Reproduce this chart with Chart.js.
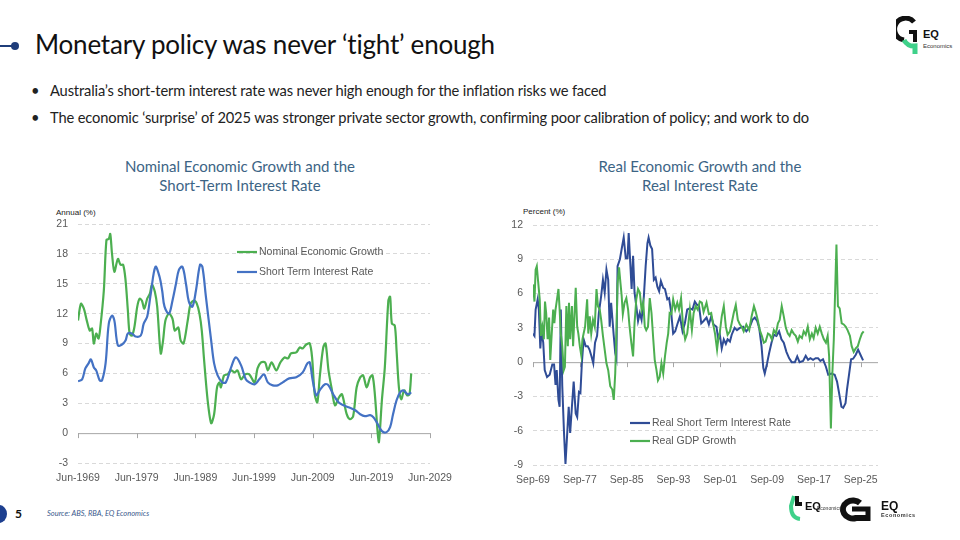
<!DOCTYPE html>
<html>
<head>
<meta charset="utf-8">
<script src="https://cdn.jsdelivr.net/npm/chart.js@4.4.1/dist/chart.umd.min.js"></script>
<style>
  body { margin: 0; width: 960px; height: 540px; background: #fff; position: relative; overflow: hidden; font-family: Lato, "Open Sans", sans-serif; }
  .abs { position: absolute; }
  .dline { left: 0; top: 45px; width: 14px; height: 2px; background: #1f3d7a; }
  .ddot { left: 11px; top: 42px; width: 8px; height: 8px; border-radius: 50%; background: #1f3d7a; }
  .title { left: 35px; top: 28px; font-size: 26px; color: #111; white-space: nowrap; letter-spacing: -0.2px; }
  .bullet { left: 31px; font-size: 14.7px; color: #222; white-space: nowrap; letter-spacing: -0.15px; }
  .bullet span { display: inline-block; width: 19px; }
  .ctitle { width: 320px; text-align: center; font-size: 15px; line-height: 19px; color: #3c6485; }
  .ylab { font-family: "Liberation Sans", Arial, sans-serif; font-size: 8px; color: #222; }
  .pg { left: 15px; top: 506px; font-size: 12px; font-weight: bold; color: #111; }
  .pgdot { left: -9px; top: 505px; width: 16px; height: 18px; border-radius: 50%; background: #1d3f8f; }
  .src { left: 47px; top: 509px; font-size: 7.5px; font-style: italic; color: #3a5a8c; }
  canvas { position: absolute; }
</style>
</head>
<body>
<div class="abs dline"></div>
<div class="abs ddot"></div>
<div class="abs title">Monetary policy was never ‘tight’ enough</div>
<div class="abs bullet" style="top:81px"><span>•</span>Australia’s short-term interest rate was never high enough for the inflation risks we faced</div>
<div class="abs bullet" style="top:108px"><span>•</span>The economic ‘surprise’ of 2025 was stronger private sector growth, confirming poor calibration of policy; and work to do</div>

<div class="abs ctitle" style="left:80px; top:157px">Nominal Economic Growth and the<br>Short-Term Interest Rate</div>
<div class="abs ctitle" style="left:540px; top:157px">Real Economic Growth and the<br>Real Interest Rate</div>
<div class="abs ylab" style="left:56px; top:208px">Annual (%)</div>
<div class="abs ylab" style="left:523px; top:207px">Percent (%)</div>

<canvas id="nominalChart" width="420" height="295" style="left:40px; top:205px"></canvas>
<canvas id="realChart" width="393" height="295" style="left:495px; top:205px"></canvas>

<div class="abs pgdot"></div>
<div class="abs pg">5</div>
<div class="abs src">Source: ABS, RBA, EQ Economics</div>

<svg class="abs" style="left:896px; top:16px" width="60" height="44" viewBox="0 0 60 44">
  <path d="M18 6 A11 11 0 1 0 8 24" fill="none" stroke="#111" stroke-width="5"/>
  <path d="M8 24 A11 11 0 0 0 19 30 L19 38" fill="none" stroke="#3fd18a" stroke-width="5"/>
  <path d="M13 16 L19 16 L19 26" fill="none" stroke="#111" stroke-width="4"/>
  <text x="27" y="22" font-family="Liberation Sans, Arial" font-weight="bold" font-size="11" fill="#111">EQ</text>
  <text x="27" y="32" font-family="Liberation Sans Narrow, Arial" font-size="6" fill="#333">Economics</text>
</svg>
<svg class="abs" style="left:788px; top:492px" width="150" height="34" viewBox="0 0 150 34">
  <path d="M6 4 L3 14 Q3 26 12 27" fill="none" stroke="#3fd18a" stroke-width="4"/>
  <path d="M9 4 L9 12 L14 12" fill="none" stroke="#111" stroke-width="4"/>
  <text x="17" y="18" font-family="Liberation Sans Narrow, Arial" font-weight="bold" font-size="11" fill="#111">EQ</text>
  <text x="29" y="18" font-family="Liberation Sans Narrow, Arial" font-size="5" fill="#333">Economics</text>
  <path d="M72 11 A10 9 0 1 0 68 26 L80 26" fill="none" stroke="#111" stroke-width="6"/>
  <path d="M64 17 L80 17 L80 29" fill="none" stroke="#111" stroke-width="5"/>
  <text x="93" y="18" font-family="Liberation Sans, Arial" font-weight="bold" font-size="12" fill="#111">EQ</text>
  <text x="93" y="25" font-family="Liberation Sans, Arial" font-weight="bold" font-size="5.5" fill="#333" letter-spacing="0.6">Economics</text>
</svg>

<script>
// Left chart: nominal GDP growth and short-term (90-day) rate, annual %
const nominalYears = [1969.5, 1970.0, 1970.5, 1971.0, 1971.5, 1971.9, 1972.2, 1972.6, 1973.0, 1973.3,
  1973.9, 1974.35, 1974.75, 1975.0, 1975.3, 1975.7, 1976.3, 1976.75, 1977.2, 1977.6,
  1978.0, 1978.3, 1978.7, 1979.1, 1979.6, 1980.0, 1980.4, 1980.8, 1981.3, 1981.75,
  1982.1, 1982.6, 1983.0, 1983.6, 1984.0, 1984.4, 1985.0, 1985.6, 1986.0, 1986.6,
  1987.0, 1987.5, 1988.2, 1988.7, 1989.3, 1989.75, 1990.2, 1990.6, 1991.0, 1991.6,
  1992.2, 1992.7, 1993.2, 1993.6, 1993.85, 1994.4, 1995.0, 1995.6, 1996.2, 1996.7,
  1997.3, 1998.0, 1998.7, 1999.6, 2000.1, 2000.7, 2001.4, 2001.85, 2002.5, 2003.3,
  2004.0, 2004.7, 2005.3, 2005.8, 2006.7, 2007.3, 2007.8, 2008.4, 2009.0, 2009.4,
  2009.85, 2010.3, 2010.7, 2011.3, 2011.7, 2012.2, 2012.7, 2013.3, 2014.0, 2014.5,
  2015.3, 2015.85, 2016.4, 2017.0, 2017.6, 2018.1, 2018.7, 2019.3, 2019.7, 2020.1,
  2020.6, 2020.8, 2021.3, 2021.8, 2022.4, 2022.7, 2023.0, 2023.5, 2023.8, 2024.2,
  2024.6, 2025.1, 2025.6, 2026.0, 2026.3];
const nominalGrowth = [11.3, 13.0, 12.5, 11.3, 10.3, 10.5, 9.0, 10.0, 9.5, 10.6,
  14.3, 19.4, 19.5, 20.0, 18.0, 16.2, 17.5, 16.9, 16.9, 15.4,
  12.3, 10.0, 9.8, 10.6, 12.7, 13.5, 13.3, 12.5, 13.5, 14.0,
  14.9, 14.2, 12.7, 8.0, 9.3, 11.3, 12.0, 11.5, 10.3, 10.6,
  9.3, 9.0, 11.3, 13.0, 13.3, 13.0, 12.0, 10.3, 7.3, 3.3,
  1.0, 1.9, 4.6, 5.1, 4.6, 5.8, 5.9, 6.3, 6.1, 6.3,
  5.4, 5.9, 5.9, 5.1, 6.5, 7.1, 7.1, 6.3, 7.1, 6.3,
  7.1, 7.6, 7.5, 8.0, 8.1, 8.6, 8.5, 8.9, 9.0, 7.6,
  3.9, 3.1, 5.6, 8.6, 9.0, 6.3, 4.6, 2.8, 3.6, 3.9,
  1.9, 1.4, 1.7, 4.6, 5.6, 5.8, 4.6, 5.6, 5.8, 3.9,
  -0.1, -0.9, 3.3, 6.6, 13.3, 13.7, 11.0, 10.8, 8.3, 4.6,
  3.4, 4.3, 3.8, 3.9, 6.0];

const shortRateYears = [1969.5, 1970.2, 1970.75, 1971.3, 1971.7, 1972.2, 1972.6, 1973.2, 1973.6, 1974.2,
  1974.75, 1975.3, 1975.7, 1976.3, 1977.0, 1977.6, 1978.0, 1978.7, 1979.3, 1980.2,
  1980.7, 1981.3, 1981.9, 1982.7, 1983.4, 1983.85, 1984.25, 1985.0, 1985.6, 1986.2,
  1986.7, 1987.3, 1987.9, 1988.4, 1989.0, 1989.6, 1990.3, 1990.7, 1991.3, 1992.2,
  1992.7, 1993.3, 1994.1, 1994.7, 1995.6, 1996.4, 1997.3, 1998.1, 1998.7, 1999.6,
  2000.4, 2001.2, 2001.85, 2002.7, 2003.55, 2004.4, 2005.5, 2006.7, 2007.8, 2008.6,
  2009.0, 2009.5, 2010.1, 2010.7, 2011.6, 2012.2, 2013.0, 2013.9, 2014.75, 2015.6,
  2016.75, 2017.6, 2018.4, 2019.3, 2019.85, 2020.4, 2021.3, 2022.1, 2022.7, 2023.2,
  2023.8, 2024.4, 2024.9, 2025.5, 2025.8, 2026.3];
const shortRate = [5.2, 5.4, 6.5, 7.0, 7.4, 6.6, 6.3, 5.3, 5.3, 7.0,
  11.0, 11.8, 11.3, 8.8, 8.9, 9.3, 10.0, 10.0, 9.7, 9.8,
  11.0, 11.7, 14.0, 16.7, 15.7, 14.3, 12.7, 12.0, 13.3, 15.0,
  16.4, 16.7, 15.0, 13.2, 12.7, 14.3, 16.9, 16.7, 13.7, 9.3,
  7.0, 5.8, 5.1, 5.1, 6.6, 7.6, 6.8, 5.4, 5.1, 4.9,
  5.4, 5.9, 5.1, 4.8, 4.8, 5.1, 5.5, 5.6, 6.1, 7.0,
  7.1, 5.3, 3.8, 4.3, 4.9, 4.8, 3.9, 3.1, 2.8, 2.6,
  2.3, 1.9, 1.7, 1.8, 1.6, 1.1, 0.2, 0.1, 0.6, 1.9,
  3.3, 4.1, 4.3, 4.0, 3.9, 4.1];

const nominalTickYears = [1969.5, 1979.5, 1989.5, 1999.5, 2009.5, 2019.5, 2029.5];
const nominalTickLabels = ['Jun-1969', 'Jun-1979', 'Jun-1989', 'Jun-1999', 'Jun-2009', 'Jun-2019', 'Jun-2029'];

// Right chart: real cash rate and real GDP growth, percent
const realRateYears = [1969.75, 1970.0, 1970.2, 1970.55, 1970.75, 1971.0, 1971.2, 1971.5, 1971.75, 1972.15,
  1972.6, 1973.05, 1973.35, 1973.6, 1973.8, 1974.1, 1974.3, 1974.5, 1974.75, 1975.05,
  1975.3, 1975.6, 1975.85, 1976.1, 1976.4, 1976.7, 1977.05, 1977.3, 1977.6, 1977.85,
  1978.1, 1978.4, 1978.75, 1979.1, 1979.4, 1979.75, 1980.05, 1980.35, 1980.7, 1981.0,
  1981.4, 1981.7, 1982.0, 1982.3, 1982.6, 1982.85, 1983.1, 1983.3, 1983.55, 1983.8,
  1984.0, 1984.2, 1984.6, 1984.9, 1985.25, 1985.6, 1985.9, 1986.1, 1986.4, 1986.6,
  1986.85, 1987.1, 1987.4, 1987.7, 1988.0, 1988.3, 1988.7, 1989.0, 1989.3, 1989.5,
  1989.8, 1990.1, 1990.4, 1990.7, 1991.0, 1991.3, 1991.6, 1992.0, 1992.3, 1992.7,
  1993.0, 1993.35, 1993.7, 1994.05, 1994.4, 1994.85, 1995.3, 1995.7, 1996.1, 1996.55,
  1997.0, 1997.4, 1997.8, 1998.1, 1998.5, 1998.9, 1999.4, 1999.8, 2000.2, 2000.6,
  2001.1, 2001.4, 2001.65, 2002.0, 2002.35, 2002.7, 2003.0, 2003.4, 2003.7, 2004.2,
  2004.6, 2005.1, 2005.65, 2006.2, 2006.8, 2007.25, 2007.65, 2008.05, 2008.4, 2008.8,
  2009.1, 2009.35, 2009.75, 2010.1, 2010.5, 2010.9, 2011.35, 2011.8, 2012.2, 2012.6,
  2013.05, 2013.5, 2013.95, 2014.5, 2014.9, 2015.3, 2015.9, 2016.35, 2016.75, 2017.15,
  2017.6, 2018.05, 2018.45, 2018.85, 2019.3, 2019.8, 2020.2, 2020.75, 2021.3, 2021.7,
  2022.05, 2022.45, 2022.75, 2023.15, 2023.4, 2023.75, 2024.1, 2024.45, 2024.9, 2025.3,
  2025.7, 2026.15];
const realRate = [2.5, 2.3, 4.6, 5.5, 4.6, 1.2, 2.7, 1.7, -0.7, -1.3,
  -1.1, -0.2, -0.2, -2.0, -0.7, -3.3, -3.9, 4.6, -2.1, -6.2,
  -8.9, -6.2, -3.9, -6.2, -3.9, -1.7, -4.5, -4.8, -2.6, -2.7,
  -0.1, 2.0, 1.4, 1.4, 1.1, 0.5, -0.1, 1.7, 2.3, 4.3,
  5.8, 7.2, 6.1, 8.1, 7.2, 3.1, 5.2, 3.9, 2.3, 0.8,
  0.35, 8.4, 9.0, 9.9, 10.9, 9.1, 9.1, 11.3, 8.4, 6.4,
  9.3, 6.1, 4.9, 3.6, 4.3, 3.7, 5.8, 8.4, 10.4, 10.9,
  10.2, 9.9, 7.2, 7.4, 6.6, 6.2, 7.1, 6.5, 6.4, 5.5,
  5.6, 4.4, 2.5, 2.7, 3.3, 4.0, 2.7, 3.4, 4.6, 4.7,
  4.6, 5.3, 5.0, 5.0, 3.4, 3.6, 3.9, 3.3, 4.0, 3.3,
  3.1, 2.0, 2.5, 1.2, 2.0, 1.6, 2.0, 1.8, 2.4, 3.0,
  2.8, 3.0, 3.1, 2.7, 3.1, 3.7, 3.9, 3.6, 3.0, 1.4,
  -0.5, -1.0, -0.1, 0.8, 1.7, 2.4, 2.3, 2.7, 2.0, 1.7,
  0.9, 0.35, 0.0, 0.0, 0.5, 0.0, 0.1, 0.55, 0.2, 0.35,
  0.2, 0.35, 0.35, 0.1, 0.25, -0.4, -1.1, -1.0, -1.1, -1.7,
  -2.7, -3.9, -4.0, -3.6, -2.4, -1.1, 0.25, 0.3, 0.65, 1.1,
  0.65, 0.15];

const realGdpYears = [1969.75, 1970.0, 1970.2, 1970.4, 1970.6, 1970.9, 1971.1, 1971.35, 1971.6, 1971.8,
  1972.0, 1972.25, 1972.5, 1972.7, 1972.95, 1973.2, 1973.4, 1973.6, 1973.85, 1974.1,
  1974.3, 1974.5, 1974.75, 1975.0, 1975.2, 1975.45, 1975.7, 1975.9, 1976.1, 1976.4,
  1976.6, 1976.8, 1977.05, 1977.3, 1977.5, 1977.75, 1978.0, 1978.2, 1978.4, 1978.65,
  1979.0, 1979.2, 1979.45, 1979.7, 1980.0, 1980.3, 1980.6, 1980.85, 1981.15, 1981.4,
  1981.7, 1982.0, 1982.3, 1982.6, 1982.95, 1983.3, 1983.55, 1983.8, 1984.0, 1984.2,
  1984.45, 1984.7, 1984.9, 1985.1, 1985.4, 1985.7, 1986.0, 1986.25, 1986.55, 1986.85,
  1987.1, 1987.4, 1987.7, 1988.0, 1988.3, 1988.6, 1988.85, 1989.1, 1989.4, 1989.7,
  1990.0, 1990.3, 1990.55, 1990.85, 1991.1, 1991.4, 1991.7, 1992.0, 1992.3, 1992.6,
  1992.85, 1993.1, 1993.4, 1993.7, 1994.05, 1994.4, 1994.7, 1995.05, 1995.4, 1995.75,
  1996.1, 1996.3, 1996.55, 1996.9, 1997.2, 1997.55, 1997.9, 1998.25, 1998.6, 1998.9,
  1999.4, 1999.8, 2000.2, 2000.5, 2000.85, 2001.2, 2001.4, 2001.65, 2002.0, 2002.35,
  2002.7, 2003.0, 2003.4, 2003.7, 2004.05, 2004.4, 2004.75, 2005.1, 2005.4, 2005.75,
  2006.2, 2006.7, 2007.1, 2007.5, 2007.8, 2008.15, 2008.5, 2008.85, 2009.2, 2009.5,
  2009.9, 2010.2, 2010.55, 2010.9, 2011.25, 2011.6, 2011.9, 2012.25, 2012.6, 2012.95,
  2013.3, 2013.6, 2013.95, 2014.3, 2014.65, 2015.0, 2015.3, 2015.7, 2016.0, 2016.35,
  2016.7, 2017.05, 2017.4, 2017.7, 2018.05, 2018.4, 2018.75, 2019.1, 2019.45, 2019.8,
  2020.1, 2020.35, 2020.65, 2020.9, 2021.15, 2021.6, 2021.85, 2022.15, 2022.5, 2022.85,
  2023.2, 2023.5, 2023.9, 2024.2, 2024.55, 2024.9, 2025.25, 2025.6, 2025.95, 2026.25];
const realGdp = [6.8, 5.3, 8.1, 8.4, 7.2, 5.5, 2.3, 3.1, 2.0, 5.3,
  4.3, 2.0, 3.9, 0.2, 2.5, 4.6, 3.4, 4.6, 5.5, 6.4,
  4.6, 2.5, 1.4, -0.7, -0.4, 4.9, 1.4, 5.2, 2.0, 4.9,
  1.4, 3.7, 6.5, 3.1, 2.5, 1.4, 0.6, 2.0, 2.5, 3.1,
  5.5, 2.5, 4.0, 2.5, 3.7, 3.1, 6.4, 4.9, 4.6, 3.7,
  2.3, 1.1, -0.1, -0.7, -2.1, -2.4, -3.3, -1.0, 2.5, 6.9,
  8.3, 6.9, 5.8, 4.2, 5.2, 5.6, 4.6, 3.1, 1.7, 0.5,
  3.4, 5.5, 6.4, 6.1, 4.6, 5.2, 3.1, 2.8, 3.1, 5.6,
  4.3, 2.0, 0.2, -0.7, -1.6, -1.3, -0.1, -1.0, 0.5, 1.7,
  2.5, 4.3, 4.2, 5.5, 4.6, 5.2, 4.6, 5.6, 3.1, 2.0,
  2.5, 3.4, 4.6, 2.8, 4.3, 4.9, 4.6, 5.3, 5.2, 4.4,
  5.2, 4.2, 4.3, 3.4, 2.5, 1.1, 2.0, 2.5, 4.0, 4.9,
  3.1, 2.4, 2.7, 3.4, 4.3, 5.0, 3.7, 3.3, 3.1, 2.7,
  3.3, 2.8, 4.0, 4.9, 4.4, 3.7, 2.8, 2.3, 1.7, 1.8,
  2.5, 2.4, 2.0, 2.8, 2.5, 3.4, 3.7, 4.9, 4.0, 3.0,
  2.5, 2.3, 2.8, 2.5, 2.3, 1.8, 2.3, 2.1, 2.7, 2.4,
  3.1, 2.0, 2.5, 2.1, 3.0, 2.5, 3.1, 2.5, 2.0, 1.7,
  2.3, 0.5, -5.8, -1.0, 2.0, 10.3, 4.9, 4.7, 3.4, 3.3,
  3.1, 2.8, 2.3, 1.4, 0.9, 1.2, 1.4, 2.0, 2.5, 2.7];

const realTickYears = [1969.75, 1977.75, 1985.75, 1993.75, 2001.75, 2009.75, 2017.75, 2025.75];
const realTickLabels = ['Sep-69', 'Sep-77', 'Sep-85', 'Sep-93', 'Sep-01', 'Sep-09', 'Sep-17', 'Sep-25'];

const GREEN = '#4caf50';
const BLUE_LIGHT = '#4472c4';
const BLUE_DARK = '#2f4c96';
const AXIS_FONT = { family: '"Liberation Sans", Arial, sans-serif', size: 10.5 };

function pairs(xs, ys) {
    return xs.map((x, i) => ({ x: x, y: ys[i] }));
}

// solid zero line with small tick marks, as in the Excel originals
const zeroAxis = {
    id: 'zeroAxis',
    beforeDatasetsDraw(chart) {
        const { ctx, chartArea, scales } = chart;
        const y0 = scales.y.getPixelForValue(0);
        ctx.save();
        ctx.strokeStyle = '#a6a6a6';
        ctx.lineWidth = 1;
        ctx.beginPath();
        ctx.moveTo(chartArea.left, y0 + 0.5);
        ctx.lineTo(chartArea.right, y0 + 0.5);
        scales.x.ticks.forEach(t => {
            const px = Math.round(scales.x.getPixelForValue(t.value)) + 0.5;
            ctx.moveTo(px, y0);
            ctx.lineTo(px, y0 + 5);
        });
        ctx.stroke();
        ctx.restore();
    }
};

// legend drawn inside the plot at a fixed spot
const innerLegend = {
    id: 'innerLegend',
    afterDraw(chart, args, opts) {
        const { ctx } = chart;
        ctx.save();
        ctx.font = '10.5px "Liberation Sans", Arial, sans-serif';
        ctx.textBaseline = 'middle';
        chart.data.datasets.forEach((ds, i) => {
            const y = opts.y + i * opts.gap;
            ctx.strokeStyle = ds.borderColor;
            ctx.lineWidth = 2.2;
            ctx.beginPath();
            ctx.moveTo(opts.x, y);
            ctx.lineTo(opts.x + 20, y);
            ctx.stroke();
            ctx.fillStyle = '#595959';
            ctx.fillText(ds.label, opts.x + 22, y + 0.5);
        });
        ctx.restore();
    }
};

function axes(xMin, xMax, tickYears, tickLabels, yMin, yMax, xHeight) {
    return {
        x: {
            type: 'linear',
            min: xMin,
            max: xMax,
            afterBuildTicks: s => { s.ticks = tickYears.map(v => ({ value: v })); },
            afterFit: s => { s.height = xHeight; },
            grid: { display: false },
            border: { display: false },
            ticks: {
                autoSkip: false,
                maxRotation: 0,
                padding: 1,
                color: '#595959',
                font: AXIS_FONT,
                callback: (v, i) => tickLabels[i]
            }
        },
        y: {
            min: yMin,
            max: yMax,
            afterFit: s => { s.width = 38; },
            grid: {
                drawTicks: false,
                color: c => (c.tick && c.tick.value === 0) ? 'rgba(0,0,0,0)' : '#d9d9d9'
            },
            border: { display: false, dash: [4, 3] },
            ticks: { stepSize: 3, padding: 10, color: '#595959', font: AXIS_FONT }
        }
    };
}

Chart.defaults.animation = false;

new Chart(document.getElementById('nominalChart'), {
    type: 'line',
    data: {
        datasets: [{
            label: 'Nominal Economic Growth',
            data: pairs(nominalYears, nominalGrowth),
            borderColor: GREEN,
            borderWidth: 2.2,
            pointRadius: 0,
            tension: 0.3,
            order: 1,
        }, {
            label: 'Short Term Interest Rate',
            data: pairs(shortRateYears, shortRate),
            borderColor: BLUE_LIGHT,
            borderWidth: 2.2,
            pointRadius: 0,
            tension: 0.35,
            order: 0,
        }],
    },
    options: {
        responsive: false,
        layout: { padding: { top: 19, right: 30, left: 0, bottom: 0 } },
        scales: axes(1969.5, 2029.5, nominalTickYears, nominalTickLabels, -3, 21, 37),
        plugins: {
            legend: { display: false },
            tooltip: { enabled: false },
            innerLegend: { x: 197, y: 47, gap: 20 },
        },
    },
    plugins: [zeroAxis, innerLegend],
});

new Chart(document.getElementById('realChart'), {
    type: 'line',
    data: {
        datasets: [{
            label: 'Real Short Term Interest Rate',
            data: pairs(realRateYears, realRate),
            borderColor: BLUE_DARK,
            borderWidth: 2,
            pointRadius: 0,
            tension: 0,
            order: 1,
        }, {
            label: 'Real GDP Growth',
            data: pairs(realGdpYears, realGdp),
            borderColor: GREEN,
            borderWidth: 2,
            pointRadius: 0,
            tension: 0,
            order: 0,
        }],
    },
    options: {
        responsive: false,
        layout: { padding: { top: 20, right: 10, left: 0, bottom: 0 } },
        scales: axes(1969.75, 2028.7, realTickYears, realTickLabels, -9, 12, 35),
        plugins: {
            legend: { display: false },
            tooltip: { enabled: false },
            innerLegend: { x: 135, y: 218, gap: 18 },
        },
    },
    plugins: [zeroAxis, innerLegend],
});
</script>
</body>
</html>
